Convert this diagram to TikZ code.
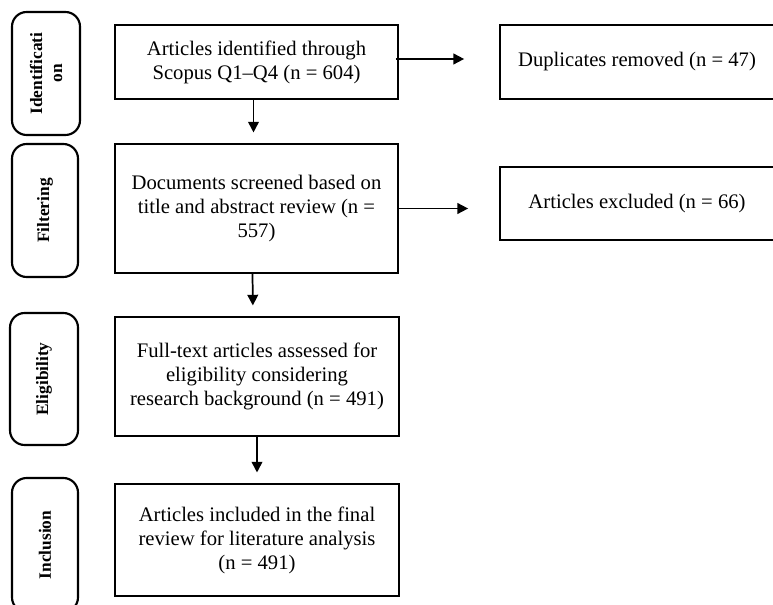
\documentclass[tikz,border=0pt]{standalone}
\usepackage{fontspec}
\setmainfont{Liberation Serif}
\usetikzlibrary{arrows.meta}

\begin{document}
\begin{tikzpicture}[
  x=0.75pt, y=-0.75pt,
  stage/.style={draw, line width=1.6pt, rounded corners=11pt, rotate=90, align=center,
                font=\fontsize{13}{15}\selectfont\bfseries, inner sep=0pt},
  box/.style={draw, line width=1.3pt, align=center, inner sep=2pt,
              font=\fontsize{15.5}{18}\selectfont},
  arr/.style={line width=1.3pt, -{Triangle[length=8pt, width=8pt]}}]
  \useasboundingbox (0,0) rectangle (773,605);
  % stages on the left
  \node[stage, minimum width=92.25pt, minimum height=51pt] (sid) at (46,73.5) {Identificati\\on};
  \node[stage, minimum width=99.75pt, minimum height=49.5pt] (sfilt) at (45,210.5) {Filtering};
  \node[stage, minimum width=99pt, minimum height=51pt] (selig) at (44,379) {Eligibility};
  \node[stage, minimum width=100.5pt, minimum height=49.5pt] (sincl) at (45,545) {Inclusion};
  % main flow
  \node[box, minimum width=212.25pt, minimum height=55.5pt] (ident) at (256.5,62)
    {Articles identified through\\Scopus Q1--Q4 (n = 604)};
  \node[box, minimum width=212.25pt, minimum height=96.75pt] (screen) at (256.5,208.5)
    {Documents screened based on\\title and abstract review (n =\\557)};
  \node[box, minimum width=213pt, minimum height=89.25pt] (assess) at (257,376.5)
    {Full-text articles assessed for\\eligibility considering\\research background (n = 491)};
  \node[box, minimum width=213pt, minimum height=84pt] (incl) at (257,540)
    {Articles included in the final\\review for literature analysis\\(n = 491)};
  % removed records
  \node[box, minimum width=205.5pt, minimum height=55.5pt] (dup) at (637,62)
    {Duplicates removed (n = 47)};
  \node[box, minimum width=205.5pt, minimum height=54.75pt] (excl) at (637,203.5)
    {Articles excluded (n = 66)};
  \draw[arr, shorten >=8pt] ([xshift=-2.25pt]ident.south) -- ([xshift=-2.25pt]screen.north);
  \draw[arr, shorten >=8pt] ([xshift=-3pt]screen.south) -- ([xshift=-3pt]assess.north);
  \draw[arr, shorten >=8pt] (assess.south) -- (incl.north);
  \draw[arr, shorten <=-2.25pt, shorten >=26.25pt] ([yshift=2.25pt]ident.east) -- ([yshift=2.25pt]dup.west);
  \draw[arr, shorten >=23.25pt] (screen.east) -- (screen.east -| excl.west);
\end{tikzpicture}
\end{document}
